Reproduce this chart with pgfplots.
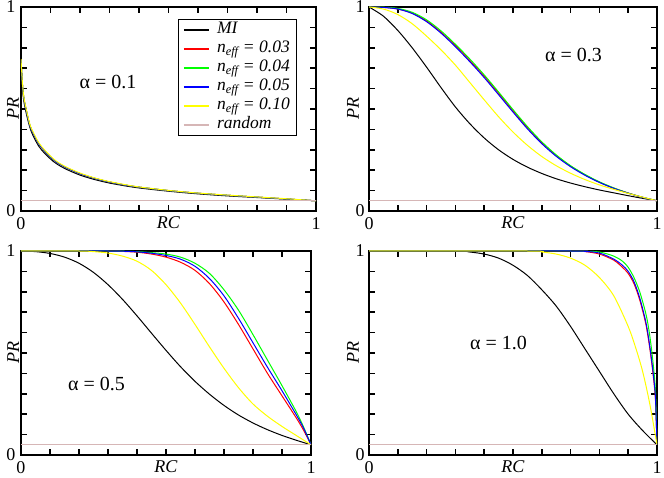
\documentclass[border=0pt]{standalone}
\usepackage{fontspec}
\setmainfont{Liberation Serif}
\usepackage{pgfplots}
\pgfplotsset{compat=1.18}
\definecolor{randcol}{RGB}{214,182,182}
\definecolor{cRed}{RGB}{255,0,0}
\definecolor{cGreen}{RGB}{0,255,0}
\definecolor{cBlue}{RGB}{0,0,255}
\definecolor{cYellow}{RGB}{255,255,0}

\pgfplotsset{
  prpanel/.style={
    scale only axis,
    anchor=south west,
    xmin=0, xmax=1, ymin=0, ymax=1,
    xtick={0,0.1,0.2,0.3,0.4,0.5,0.6,0.7,0.8,0.9,1},
    ytick={0,0.1,0.2,0.3,0.4,0.5,0.6,0.7,0.8,0.9,1},
    xticklabels={0,{},{},{},{},{},{},{},{},{},1},
    yticklabels={0,{},{},{},{},{},{},{},{},{},1},
    xtick pos=both, ytick pos=both,
    xticklabel pos=lower, yticklabel pos=left,
    tick align=inside,
    major tick length=6pt,
    axis line style={line width=2.4pt},
    every tick/.style={line width=1.6pt, black},
    tick label style={font=\fontsize{18}{18}\selectfont},
    label style={font=\fontsize{18}{18}\selectfont},
    every x tick label/.append style={anchor=center, yshift=-13pt},
    every y tick label/.append style={anchor=center, xshift=-10pt},
    xlabel={\textit{RC}}, ylabel={\textit{PR}},
    xlabel style={at={(axis description cs:0.5,0)}, anchor=center, yshift=-12pt},
    every axis plot/.append style={line width=1pt, smooth, tension=0.5},
  }
}

\begin{document}
\begin{tikzpicture}
\path[use as bounding box] (0pt,0pt) rectangle (664pt,477pt);

% ---------------- Panel 1 (alpha = 0.1)
\begin{axis}[prpanel, at={(21pt,266pt)}, width=295pt, height=204pt,
  ylabel style={at={(axis description cs:-0.027,0.5)}, anchor=center},
  legend style={at={(axis description cs:0.508,0.941)}, anchor=north west, xshift=7pt,
    draw=black, line width=0.7pt,
    font=\fontsize{17.5}{18}\selectfont, row sep=0pt, column sep=6pt, inner xsep=5pt, inner ysep=1pt,
    nodes={text height=12pt, text depth=4pt, inner sep=1.5pt}},
  legend cell align=left,
  legend image code/.code={\draw[#1, line width=1.4pt] (0pt,0pt) -- (25pt,0pt);},
]
\addplot[black] coordinates {(0,0.72)(0.005,0.60)(0.01,0.535)(0.02,0.465)(0.03,0.41)(0.04,0.372)(0.06,0.318)(0.08,0.283)(0.1,0.255)(0.12,0.232)(0.15,0.207)(0.2,0.176)(0.25,0.154)(0.3,0.137)(0.35,0.124)(0.4,0.113)(0.5,0.097)(0.6,0.084)(0.7,0.074)(0.8,0.066)(0.9,0.058)(1,0.05)};
\addlegendentry{\textit{MI}}
\addplot[cRed] coordinates {(0,0.74)(0.005,0.62)(0.01,0.55)(0.02,0.48)(0.03,0.42)(0.04,0.385)(0.06,0.33)(0.08,0.295)(0.1,0.265)(0.12,0.24)(0.15,0.215)(0.2,0.183)(0.25,0.16)(0.3,0.142)(0.35,0.128)(0.4,0.117)(0.5,0.100)(0.6,0.087)(0.7,0.077)(0.8,0.068)(0.9,0.059)(1,0.05)};
\addlegendentry{\textit{n\textsubscript{eff} = 0.03}}
\addplot[cGreen] coordinates {(0,0.74)(0.005,0.62)(0.01,0.55)(0.02,0.48)(0.03,0.42)(0.04,0.385)(0.06,0.33)(0.08,0.295)(0.1,0.265)(0.12,0.24)(0.15,0.215)(0.2,0.183)(0.25,0.16)(0.3,0.142)(0.35,0.128)(0.4,0.117)(0.5,0.100)(0.6,0.087)(0.7,0.077)(0.8,0.068)(0.9,0.059)(1,0.05)};
\addlegendentry{\textit{n\textsubscript{eff} = 0.04}}
\addplot[cBlue] coordinates {(0,0.74)(0.005,0.62)(0.01,0.55)(0.02,0.48)(0.03,0.42)(0.04,0.385)(0.06,0.33)(0.08,0.295)(0.1,0.265)(0.12,0.24)(0.15,0.215)(0.2,0.183)(0.25,0.16)(0.3,0.142)(0.35,0.128)(0.4,0.117)(0.5,0.100)(0.6,0.087)(0.7,0.077)(0.8,0.068)(0.9,0.059)(1,0.05)};
\addlegendentry{\textit{n\textsubscript{eff} = 0.05}}
\addplot[cYellow] coordinates {(0,0.745)(0.005,0.625)(0.01,0.555)(0.02,0.485)(0.03,0.425)(0.04,0.39)(0.06,0.335)(0.08,0.299)(0.1,0.269)(0.12,0.244)(0.15,0.218)(0.2,0.186)(0.25,0.162)(0.3,0.144)(0.35,0.130)(0.4,0.118)(0.5,0.101)(0.6,0.088)(0.7,0.078)(0.8,0.069)(0.9,0.060)(1,0.05)};
\addlegendentry{\textit{n\textsubscript{eff} = 0.10}}
\addplot[randcol, line width=1.2pt] coordinates {(0,0.05)(1,0.05)};
\addlegendentry{\textit{random}}
\node[font=\fontsize{20}{20}\selectfont] at (axis cs:0.295,0.63) {α = 0.1};
\end{axis}

% ---------------- Panel 2 (alpha = 0.3)
\begin{axis}[prpanel, at={(369pt,266pt)}, width=288pt, height=204pt,
  ylabel style={at={(axis description cs:-0.056,0.5)}, anchor=center},
  every y tick label/.append style={xshift=1pt}]
\addplot[black] coordinates {(0,1)(0.05,0.955)(0.1,0.885)(0.15,0.80)(0.2,0.705)(0.25,0.605)(0.3,0.51)(0.35,0.428)(0.4,0.358)(0.45,0.30)(0.5,0.253)(0.55,0.215)(0.6,0.184)(0.65,0.158)(0.7,0.137)(0.75,0.119)(0.8,0.103)(0.85,0.089)(0.9,0.075)(0.95,0.062)(1,0.05)};
\addplot[cRed] coordinates {(0,1)(0.05,0.998)(0.1,0.99)(0.15,0.970)(0.2,0.932)(0.25,0.877)(0.3,0.811)(0.35,0.738)(0.4,0.661)(0.45,0.577)(0.5,0.491)(0.55,0.409)(0.6,0.335)(0.65,0.272)(0.7,0.220)(0.75,0.177)(0.8,0.141)(0.85,0.112)(0.9,0.088)(0.95,0.067)(1,0.05)};
\addplot[cGreen] coordinates {(0,1)(0.05,0.999)(0.1,0.993)(0.15,0.974)(0.2,0.937)(0.25,0.883)(0.3,0.817)(0.35,0.745)(0.4,0.667)(0.45,0.583)(0.5,0.497)(0.55,0.414)(0.6,0.339)(0.65,0.275)(0.7,0.222)(0.75,0.179)(0.8,0.143)(0.85,0.113)(0.9,0.088)(0.95,0.067)(1,0.05)};
\addplot[cBlue] coordinates {(0,1)(0.05,0.998)(0.1,0.99)(0.15,0.968)(0.2,0.928)(0.25,0.872)(0.3,0.805)(0.35,0.732)(0.4,0.654)(0.45,0.570)(0.5,0.485)(0.55,0.403)(0.6,0.330)(0.65,0.268)(0.7,0.217)(0.75,0.175)(0.8,0.140)(0.85,0.111)(0.9,0.087)(0.95,0.067)(1,0.05)};
\addplot[cYellow] coordinates {(0,1)(0.05,0.99)(0.1,0.963)(0.15,0.918)(0.2,0.857)(0.25,0.790)(0.3,0.715)(0.35,0.630)(0.4,0.545)(0.45,0.462)(0.5,0.387)(0.55,0.322)(0.6,0.267)(0.65,0.222)(0.7,0.185)(0.75,0.154)(0.8,0.128)(0.85,0.106)(0.9,0.086)(0.95,0.068)(1,0.05)};
\addplot[randcol, line width=1.2pt] coordinates {(0,0.05)(1,0.05)};
\node[font=\fontsize{20}{20}\selectfont] at (axis cs:0.71,0.765) {α = 0.3};
\end{axis}

% ---------------- Panel 3 (alpha = 0.5)
\begin{axis}[prpanel, at={(21pt,22pt)}, width=290pt, height=204pt,
  ylabel style={at={(axis description cs:-0.027,0.5)}, anchor=center}]
\addplot[black] coordinates {(0,1)(0.05,0.997)(0.1,0.988)(0.15,0.970)(0.2,0.940)(0.25,0.895)(0.3,0.835)(0.35,0.763)(0.4,0.682)(0.45,0.597)(0.5,0.513)(0.55,0.433)(0.6,0.361)(0.65,0.298)(0.7,0.243)(0.75,0.196)(0.8,0.157)(0.85,0.124)(0.9,0.096)(0.95,0.072)(1,0.05)};
\addplot[cRed] coordinates {(0,1)(0.3,1)(0.35,0.998)(0.4,0.994)(0.45,0.985)(0.5,0.97)(0.55,0.945)(0.6,0.905)(0.65,0.84)(0.7,0.75)(0.75,0.64)(0.8,0.52)(0.85,0.40)(0.9,0.29)(0.95,0.18)(0.975,0.12)(1,0.05)};
\addplot[cGreen] coordinates {(0,1)(0.3,1)(0.35,0.999)(0.4,0.997)(0.45,0.992)(0.5,0.985)(0.55,0.97)(0.6,0.94)(0.65,0.89)(0.7,0.81)(0.75,0.71)(0.8,0.59)(0.85,0.465)(0.9,0.34)(0.95,0.21)(0.975,0.135)(1,0.05)};
\addplot[cBlue] coordinates {(0,1)(0.3,1)(0.35,0.999)(0.4,0.996)(0.45,0.989)(0.5,0.978)(0.55,0.96)(0.6,0.925)(0.65,0.865)(0.7,0.78)(0.75,0.67)(0.8,0.55)(0.85,0.43)(0.9,0.315)(0.95,0.195)(0.975,0.13)(1,0.05)};
\addplot[cYellow] coordinates {(0,1)(0.2,1)(0.25,0.997)(0.3,0.99)(0.35,0.975)(0.4,0.95)(0.45,0.905)(0.5,0.835)(0.55,0.745)(0.6,0.64)(0.65,0.53)(0.7,0.425)(0.75,0.33)(0.8,0.25)(0.85,0.19)(0.9,0.14)(0.95,0.095)(1,0.05)};
\addplot[randcol, line width=1.2pt] coordinates {(0,0.05)(1,0.05)};
\node[font=\fontsize{20}{20}\selectfont] at (axis cs:0.26,0.35) {α = 0.5};
\end{axis}

% ---------------- Panel 4 (alpha = 1.0)
\begin{axis}[prpanel, at={(369pt,22pt)}, width=288pt, height=204pt,
  ylabel style={at={(axis description cs:-0.056,0.5)}, anchor=center},
  every y tick label/.append style={xshift=1pt}]
\addplot[black] coordinates {(0,1)(0.3,1)(0.35,0.995)(0.4,0.985)(0.45,0.965)(0.5,0.93)(0.55,0.88)(0.6,0.81)(0.65,0.73)(0.7,0.63)(0.75,0.52)(0.8,0.41)(0.85,0.30)(0.9,0.20)(0.95,0.12)(1,0.05)};
\addplot[cRed] coordinates {(0,1)(0.7,1)(0.75,0.997)(0.8,0.985)(0.85,0.955)(0.88,0.92)(0.9,0.89)(0.92,0.84)(0.94,0.76)(0.96,0.65)(0.97,0.57)(0.98,0.47)(0.99,0.35)(0.995,0.26)(1,0.05)};
\addplot[cGreen] coordinates {(0,1)(0.7,1)(0.75,0.999)(0.8,0.995)(0.85,0.975)(0.88,0.95)(0.9,0.92)(0.92,0.87)(0.94,0.80)(0.96,0.70)(0.97,0.63)(0.98,0.53)(0.99,0.40)(0.995,0.30)(1,0.05)};
\addplot[cBlue] coordinates {(0,1)(0.7,1)(0.75,0.998)(0.8,0.99)(0.85,0.96)(0.88,0.93)(0.9,0.90)(0.92,0.85)(0.94,0.77)(0.96,0.66)(0.97,0.58)(0.98,0.48)(0.99,0.36)(0.995,0.27)(1,0.05)};
\addplot[cYellow] coordinates {(0,1)(0.55,1)(0.6,0.995)(0.65,0.985)(0.7,0.965)(0.75,0.93)(0.8,0.87)(0.85,0.78)(0.9,0.63)(0.925,0.53)(0.95,0.41)(0.975,0.25)(1,0.05)};
\addplot[randcol, line width=1.2pt] coordinates {(0,0.05)(1,0.05)};
\node[font=\fontsize{20}{20}\selectfont] at (axis cs:0.45,0.55) {α = 1.0};
\end{axis}
\end{tikzpicture}
\end{document}
